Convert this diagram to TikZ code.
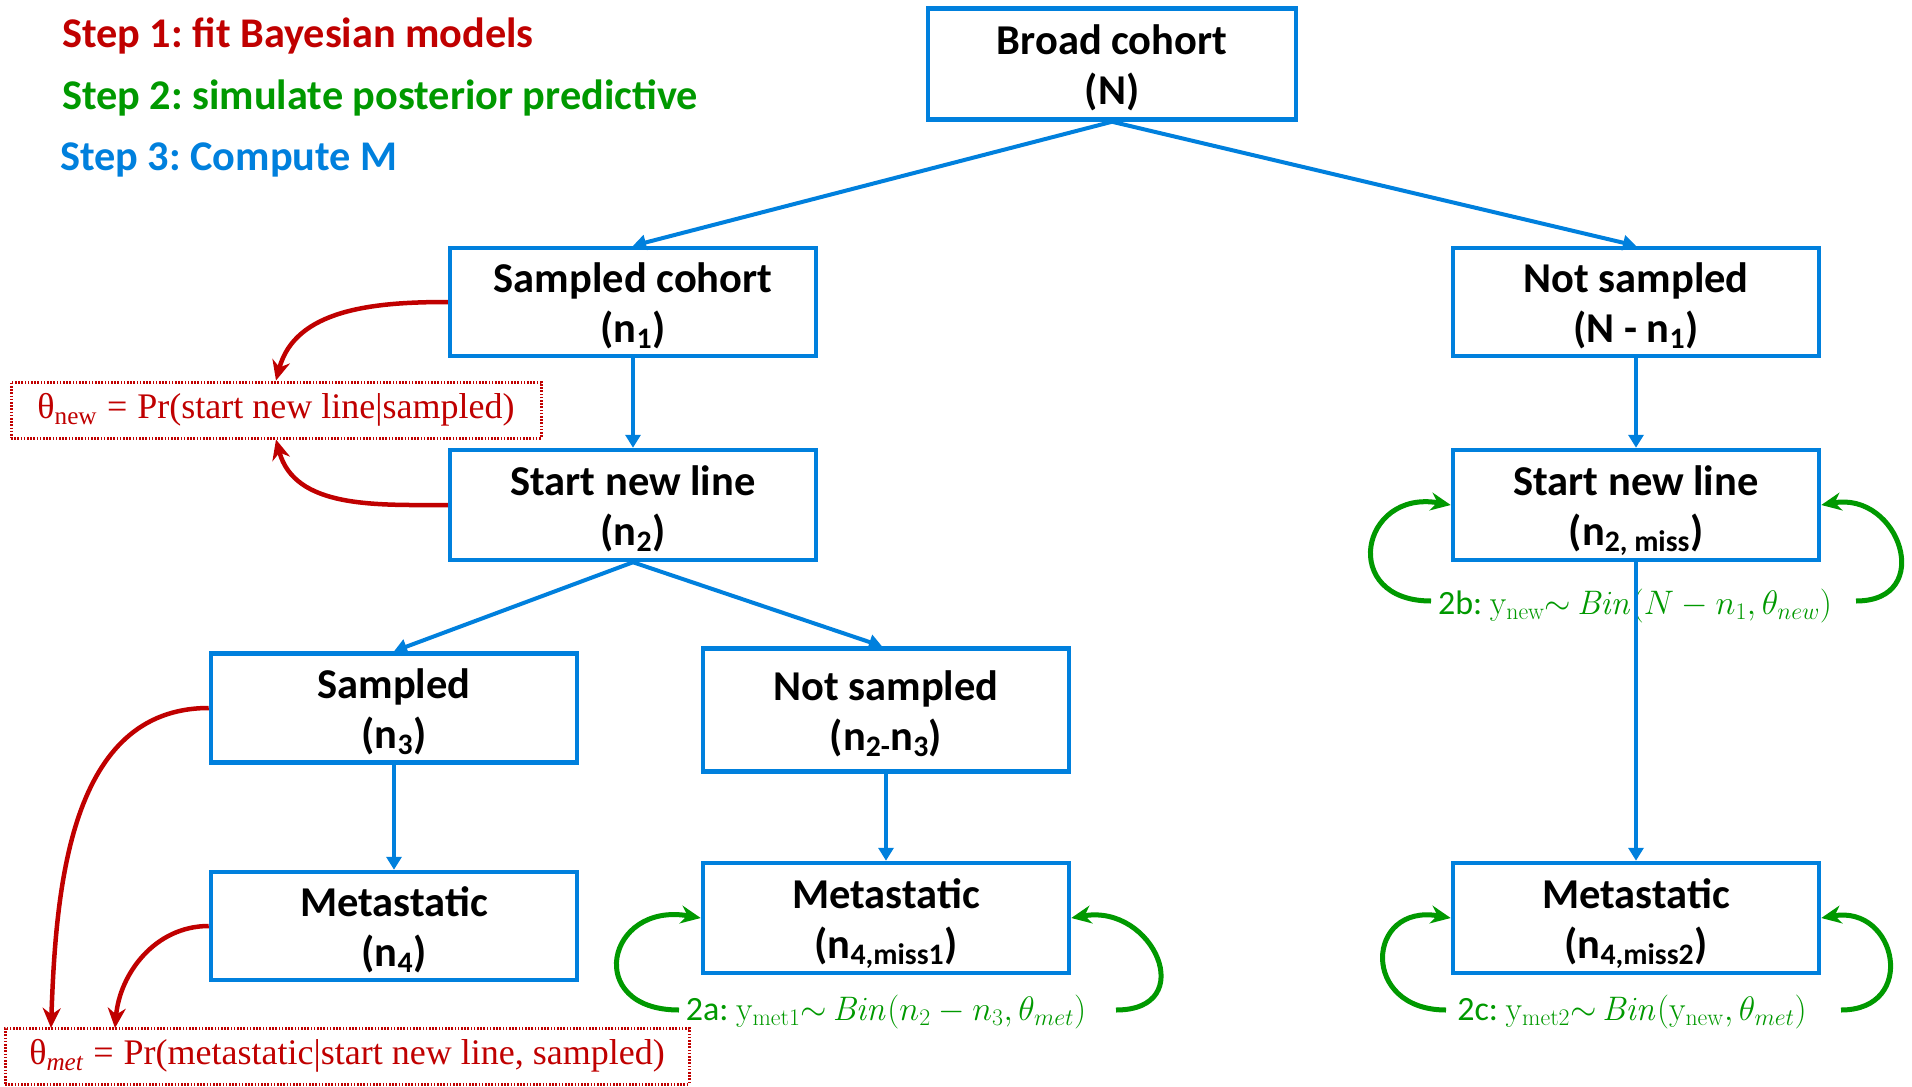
\RequirePackage{fix-cm}
\documentclass[tikz,border=0pt]{standalone}
\usepackage[no-math]{fontspec}
\setmainfont{Carlito}
\newfontfamily\lserif{Liberation Serif}
\usetikzlibrary{arrows.meta,calc}
\definecolor{bblue}{RGB}{0,128,221}
\definecolor{dred}{RGB}{192,0,0}
\definecolor{dgreen}{RGB}{0,153,0}
\frenchspacing
\newcommand\bxtop{\rule{0pt}{44pt}}
\newcommand\bxbot{\rule[-13pt]{0pt}{13pt}}
\tikzset{
 box/.style={draw=bblue, line width=4.5pt, minimum width=366pt, minimum height=110pt, align=center, inner sep=0pt, font=\fontsize{42.5}{50}\selectfont\bfseries},
 barrow/.style={draw=bblue, line width=4pt, -{Triangle[length=13pt,width=15pt]}},
 rarrow/.style={draw=dred, line width=4.5pt, -{Stealth[length=20pt,width=18pt]}},
 garrow/.style={draw=dgreen, line width=5pt, -{Stealth[length=20pt,width=18pt]}},
 pbox/.style={draw=dred, dash pattern=on 1.6pt off 1.6pt, line width=3pt, inner sep=0pt, minimum height=56pt, text=dred, font=\lserif\fontsize{36}{40}\selectfont},
 steptext/.style={anchor=west, font=\fontsize{42.3}{50}\selectfont\bfseries, inner sep=0pt},
 glabel/.style={text=dgreen, font=\fontsize{34}{40}\selectfont, inner sep=0pt},
}
\begin{document}
\begin{tikzpicture}[x=1pt,y=1pt]
\path[use as bounding box, fill=white] (0,0) rectangle (1912,-1087);
% step texts
\node[steptext, text=dred] (s1) at (62,-36) {Step 1: fit Bayesian models};
\node[steptext, text=dgreen] (s2) at (62,-98) {Step 2: simulate posterior predictive};
\node[steptext, text=bblue] (s3) at (60,-160) {Step 3: Compute M};
% boxes
\node[box, minimum width=368pt, minimum height=111pt] (broad) at (1112,-64) {\bxtop Broad cohort\\(N)\bxbot};
\node[box, minimum height=108pt] (scoh) at (633,-302) {\bxtop Sampled cohort\\(n\textsubscript{1})\bxbot};
\node[box, minimum height=108pt] (nsamp) at (1636,-302) {\bxtop Not sampled\\(N - n\textsubscript{1})\bxbot};
\node[box] (snl) at (633,-505) {\bxtop Start new line\\(n\textsubscript{2})\bxbot};
\node[box] (snr) at (1636,-505) {\bxtop Start new line\\(n\textsubscript{2, miss})\bxbot};
\node[box, minimum height=109pt] (samp3) at (394,-708) {\bxtop Sampled\\(n\textsubscript{3})\bxbot};
\node[box, minimum height=123pt] (ns23) at (886,-710) {\bxtop Not sampled\\(n\textsubscript{2-}n\textsubscript{3})\bxbot};
\node[box, minimum height=108pt] (met4) at (394,-926) {\bxtop Metastatic\\(n\textsubscript{4})\bxbot};
\node[box] (met1) at (886,-918) {\bxtop Metastatic\\(n\textsubscript{4,miss1})\bxbot};
\node[box] (met2) at (1636,-918) {\bxtop Metastatic\\(n\textsubscript{4,miss2})\bxbot};
% parameter boxes
\node[pbox, minimum width=530pt] (thnew) at (276,-410) {θ\textsubscript{new}\hspace{10pt}=\hspace{10pt}Pr(start new line|sampled)};
\node[pbox, minimum width=684pt] (thmet) at (347,-1056) {θ\textsubscript{\itshape met}\hspace{10pt}=\hspace{10pt}Pr(metastatic|start new line, sampled)};
\coordinate (tm1) at (51,-1028);
\coordinate (tm2) at (115,-1028);
% green labels
\node[glabel] (l2a) at (886,-1012) {2a: $\mathrm{y}_{\mathrm{met1}}{\sim}\,\mathit{Bin}(n_2-n_3,\theta_{met})$};
\node[glabel] (l2b) at (1635,-606) {2b: $\mathrm{y}_{\mathrm{new}}{\sim}\,\mathit{Bin}(N-n_1,\theta_{new})$};
\node[glabel] (l2c) at (1632,-1012) {2c: $\mathrm{y}_{\mathrm{met2}}{\sim}\,\mathit{Bin}(\mathrm{y}_{\mathrm{new}},\theta_{met})$};
\coordinate (g1a) at (679,-1010);
\coordinate (g1b) at (1116,-1010);
\coordinate (g2a) at (1431,-601);
\coordinate (g2b) at (1856,-601);
\coordinate (g3a) at (1446,-1010);
\coordinate (g3b) at (1841,-1010);
% blue connectors
\draw[barrow] (broad.south) -- (scoh.north);
\draw[barrow] (broad.south) -- (nsamp.north);
\draw[barrow] (scoh.south) -- (snl.north);
\draw[barrow] (nsamp.south) -- (snr.north);
\draw[barrow] (snl.south) -- (samp3.north);
\draw[barrow] (snl.south) -- ($(ns23.north)+(-4,0)$);
\draw[barrow] (samp3.south) -- (met4.north);
\draw[barrow] (ns23.south) -- (met1.north);
\draw[barrow] (snr.south) -- (met2.north);
% red connectors
\draw[rarrow] (scoh.west) to[out=180,in=75] (thnew.north);
\draw[rarrow] (snl.west) to[out=180,in=-75] (thnew.south);
\draw[rarrow] (samp3.west) to[out=180,in=88] (tm1);
\draw[rarrow] (met4.west) to[out=180,in=85] (tm2);
% green loops
\draw[garrow] (g1a) to[out=180,in=170,looseness=2.6] (met1.west);
\draw[garrow] (g1b) to[out=0,in=10,looseness=2.1] (met1.east);
\draw[garrow] (g2a) to[out=180,in=170,looseness=2.4] (snr.west);
\draw[garrow] (g2b) to[out=0,in=10,looseness=2.0] (snr.east);
\draw[garrow] (g3a) to[out=180,in=170,looseness=2.4] (met2.west);
\draw[garrow] (g3b) to[out=0,in=10,looseness=2.1] (met2.east);
\end{tikzpicture}
\end{document}
